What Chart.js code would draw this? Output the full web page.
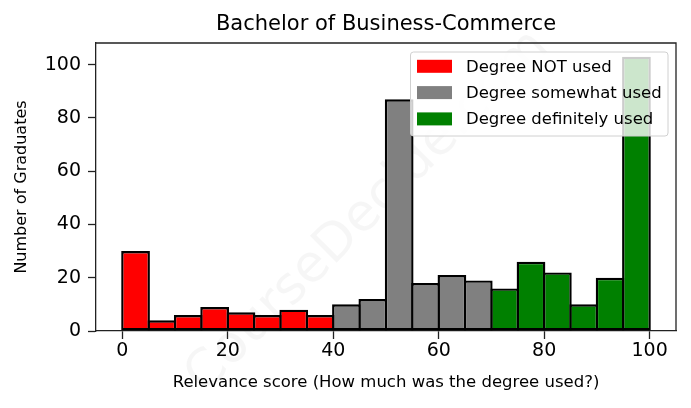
<!DOCTYPE html>
<html>
<head>
<meta charset="utf-8">
<title>Bachelor of Business-Commerce</title>
<script src="https://cdn.jsdelivr.net/npm/chart.js@4.4.1/dist/chart.umd.min.js"></script>
<style>
  html, body { margin: 0; padding: 0; background: #fff; }
  #wrap { width: 691px; height: 408px; position: relative; }
</style>
</head>
<body>
<div id="wrap"><canvas id="histChart"></canvas></div>
<script>
// histogram bins, width 5
const binStarts = [0, 5, 10, 15, 20, 25, 30, 35, 40, 45, 50, 55, 60, 65, 70, 75, 80, 85, 90, 95];
const binWidth = 5;

// counts per bin, split by colour group
const notUsedCounts = [30, 4, 6, 9, 7, 6, 8, 6];             // 0 - 40
const somewhatUsedCounts = [10, 12, 87, 18, 21, 19];         // 40 - 70
const definitelyUsedCounts = [16, 26, 22, 10, 20, 103];      // 70 - 100

const seriesLabels = ["Degree NOT used", "Degree somewhat used", "Degree definitely used"];
const seriesColors = ["#ff0000", "#808080", "#008000"];

const xTicks = [0, 20, 40, 60, 80, 100];
const yTicks = [0, 20, 40, 60, 80, 100];

const FONT = "'DejaVu Sans', sans-serif";

// turn counts into {x, y} points at bin centers
function toPoints(counts, firstBin) {
    return counts.map((c, i) => ({ x: binStarts[firstBin + i] + binWidth / 2, y: c }));
}

const datasets = [
    toPoints(notUsedCounts, 0),
    toPoints(somewhatUsedCounts, notUsedCounts.length),
    toPoints(definitelyUsedCounts, notUsedCounts.length + somewhatUsedCounts.length)
].map((pts, i) => ({
    label: seriesLabels[i],
    data: pts,
    backgroundColor: seriesColors[i],
    borderColor: "#000",
    borderWidth: 2.4,
    borderSkipped: false,
    categoryPercentage: 1,
    barPercentage: 1.09  // bars overlap a bit so neighbouring edges share one line
}));

// top + right spines
const framePlugin = {
    id: "frame",
    afterDatasetsDraw(chart) {
        const { ctx, chartArea: a } = chart;
        ctx.save();
        ctx.strokeStyle = "#222";
        ctx.lineWidth = 1.3;
        ctx.beginPath();
        ctx.moveTo(a.left, a.top);
        ctx.lineTo(a.right, a.top);
        ctx.lineTo(a.right, a.bottom);
        ctx.stroke();
        ctx.restore();
    }
};

// matplotlib style legend box in upper right
const legendBoxPlugin = {
    id: "legendBox",
    afterDatasetsDraw(chart) {
        const { ctx } = chart;
        const x = 410.5, y = 52, w = 257.5, h = 84, r = 3;
        ctx.save();
        ctx.beginPath();
        ctx.roundRect(x, y, w, h, r);
        ctx.fillStyle = "rgba(255,255,255,0.8)";
        ctx.fill();
        ctx.strokeStyle = "#d0d0d0";
        ctx.lineWidth = 1;
        ctx.stroke();
        ctx.font = "16.5px " + FONT;
        ctx.textBaseline = "middle";
        ctx.textAlign = "left";
        chart.data.datasets.forEach((ds, i) => {
            const cy = 66.3 + i * 26.3;
            ctx.fillStyle = ds.backgroundColor;
            ctx.fillRect(417, cy - 6.5, 35, 13);
            ctx.fillStyle = "#000";
            ctx.fillText(ds.label, 466, cy + 1);
        });
        ctx.restore();
    }
};

// faint watermark behind the bars
const watermarkPlugin = {
    id: "watermark",
    beforeDatasetsDraw(chart) {
        const { ctx } = chart;
        ctx.save();
        ctx.translate(368, 212);
        ctx.rotate(-Math.PI / 4);
        ctx.font = "52px " + FONT;
        ctx.fillStyle = "rgba(0,0,0,0.035)";
        ctx.textAlign = "center";
        ctx.textBaseline = "middle";
        ctx.fillText("CourseDecide.com", 0, 0);
        ctx.restore();
    }
};

new Chart(document.getElementById("histChart").getContext("2d"), {
    type: "bar",
    data: { datasets: datasets },
    options: {
        responsive: true,
        maintainAspectRatio: false,
        animation: false,
        layout: { padding: { top: 0, right: 15, bottom: 0, left: 0 } },
        plugins: {
            legend: { display: false },
            tooltip: { enabled: false },
            title: {
                display: true,
                text: "Bachelor of Business-Commerce",
                fullSize: false,
                color: "#000",
                font: { family: FONT, size: 21, weight: "normal" },
                padding: { top: 12, bottom: 5.8 }
            }
        },
        scales: {
            x: {
                type: "linear",
                stacked: true,
                offset: false,
                min: -5,
                max: 105,
                afterFit(scale) { scale.height = 77; },
                afterBuildTicks(scale) { scale.ticks = xTicks.map(v => ({ value: v })); },
                grid: { offset: false, drawOnChartArea: false, drawTicks: true, tickLength: 8, tickWidth: 1.3, color: "#222" },
                border: { display: true, color: "#222", width: 1.3 },
                ticks: { color: "#000", padding: 1, maxRotation: 0, font: { family: FONT, size: 19 } },
                title: {
                    display: true,
                    text: "Relevance score (How much was the degree used?)",
                    color: "#000",
                    font: { family: FONT, size: 16.5 },
                    padding: { top: 0, bottom: 15 }
                }
            },
            y: {
                type: "linear",
                stacked: true,
                min: 0,
                max: 108.15,
                afterFit(scale) { scale.width = 96; },
                afterBuildTicks(scale) { scale.ticks = yTicks.map(v => ({ value: v })); },
                grid: { drawOnChartArea: false, drawTicks: true, tickLength: 8, tickWidth: 1.3, color: "#222" },
                border: { display: true, color: "#222", width: 1.3 },
                ticks: { color: "#000", padding: 7, font: { family: FONT, size: 19 } },
                title: {
                    display: true,
                    text: "Number of Graduates",
                    color: "#000",
                    font: { family: FONT, size: 16 },
                    padding: { top: 12, bottom: 0 }
                }
            }
        }
    },
    plugins: [framePlugin, legendBoxPlugin, watermarkPlugin]
});
</script>
</body>
</html>
